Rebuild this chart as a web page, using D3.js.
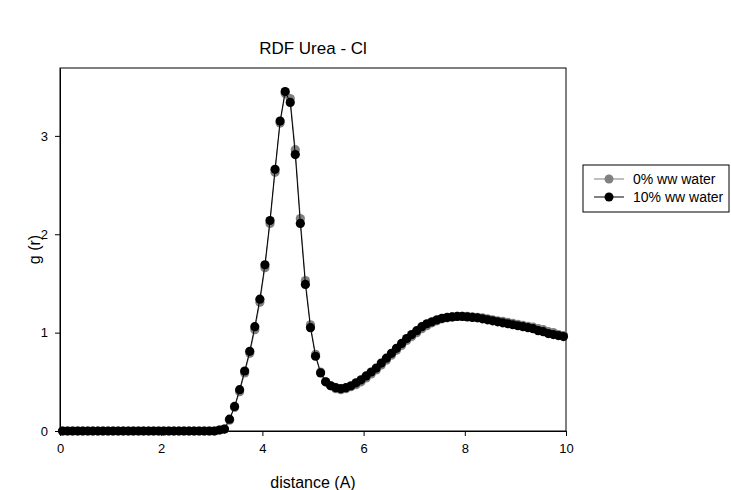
<!DOCTYPE html>
<html>
<head>
<meta charset="utf-8">
<script src="https://cdn.jsdelivr.net/npm/d3@7"></script>
<style>
    body { margin: 0; background: #fff; }
    text { font-family: "Liberation Sans", Arial, sans-serif; fill: #000; }
</style>
</head>
<body>
<div id="chart"></div>
<script>
// bin centres, 0.05 .. 9.95
const distance = d3.range(100).map(i => +(0.05 + 0.1 * i).toFixed(2));

// 10% ww water (black)
const water10 = [
    0, 0, 0, 0, 0, 0, 0, 0, 0, 0,
    0, 0, 0, 0, 0, 0, 0, 0, 0, 0,
    0, 0, 0, 0, 0, 0, 0, 0, 0, 0,
    0, 0.01, 0.02, 0.12, 0.25, 0.42, 0.61, 0.81, 1.06, 1.34,
    1.69, 2.14, 2.66, 3.15, 3.45, 3.34, 2.81, 2.11, 1.49, 1.05,
    0.76, 0.59, 0.50, 0.46, 0.44, 0.43, 0.44, 0.46, 0.49, 0.52,
    0.56, 0.60, 0.64, 0.69, 0.74, 0.79, 0.84, 0.89, 0.94, 0.98,
    1.02, 1.06, 1.09, 1.11, 1.13, 1.145, 1.155, 1.16, 1.165, 1.165,
    1.16, 1.155, 1.15, 1.14, 1.13, 1.12, 1.11, 1.10, 1.09, 1.08,
    1.07, 1.06, 1.05, 1.04, 1.02, 1.01, 0.99, 0.98, 0.97, 0.96
];

// 0% ww water (grey)
const water0 = [
    0, 0, 0, 0, 0, 0, 0, 0, 0, 0,
    0, 0, 0, 0, 0, 0, 0, 0, 0, 0,
    0, 0, 0, 0, 0, 0, 0, 0, 0, 0,
    0, 0.01, 0.02, 0.11, 0.24, 0.40, 0.59, 0.79, 1.03, 1.31,
    1.66, 2.11, 2.63, 3.13, 3.43, 3.38, 2.86, 2.16, 1.53, 1.08,
    0.78, 0.60, 0.50, 0.46, 0.43, 0.42, 0.43, 0.45, 0.47, 0.50,
    0.54, 0.58, 0.62, 0.67, 0.72, 0.77, 0.82, 0.87, 0.92, 0.96,
    1.00, 1.04, 1.07, 1.10, 1.12, 1.14, 1.15, 1.16, 1.165, 1.165,
    1.165, 1.16, 1.155, 1.15, 1.14, 1.13, 1.12, 1.115, 1.105, 1.095,
    1.085, 1.075, 1.065, 1.055, 1.04, 1.03, 1.01, 1.0, 0.98, 0.97
];

const seriesNames = ["0% ww water", "10% ww water"];
const seriesColors = ["#808080", "#000000"];
const xTicks = [0, 2, 4, 6, 8, 10];
const yTicks = [0, 1, 2, 3];

const W = 731, H = 490;
const margin = { top: 68, right: 165, bottom: 59, left: 60 };
const width = W - margin.left - margin.right;
const height = H - margin.top - margin.bottom;

const svg = d3.select("#chart").append("svg")
    .attr("width", W)
    .attr("height", H);

const g = svg.append("g")
    .attr("transform", `translate(${margin.left},${margin.top})`);

const x = d3.scaleLinear().domain([0, 10]).range([0, width]);
const y = d3.scaleLinear().domain([0, 3.69]).range([height, 0]);

// frame
g.append("rect")
    .attr("width", width)
    .attr("height", height)
    .attr("fill", "none")
    .attr("stroke", "#000")
    .attr("stroke-width", 1);

const xAxis = g.append("g")
    .attr("transform", `translate(0,${height})`)
    .call(d3.axisBottom(x).tickValues(xTicks).tickFormat(d3.format("d"))
        .tickSize(5).tickSizeOuter(0).tickPadding(8));
const yAxis = g.append("g")
    .call(d3.axisLeft(y).tickValues(yTicks).tickFormat(d3.format("d"))
        .tickSize(5).tickSizeOuter(0).tickPadding(7));

[xAxis, yAxis].forEach(a => {
    a.select(".domain").attr("stroke", "#000");
    a.selectAll("line").attr("stroke", "#000");
    a.selectAll("text").style("font-size", "13px").style("font-family", "Liberation Sans, Arial, sans-serif");
});

const allSeries = [water0, water10];
const line = d3.line()
    .x((d, i) => x(distance[i]))
    .y(d => y(d));

allSeries.forEach((vals, s) => {
    const sg = g.append("g");
    sg.append("path")
        .datum(vals)
        .attr("fill", "none")
        .attr("stroke", seriesColors[s])
        .attr("stroke-width", 1)
        .attr("d", line);
    sg.selectAll("circle")
        .data(vals)
        .enter()
        .append("circle")
        .attr("cx", (d, i) => x(distance[i]))
        .attr("cy", d => y(d))
        .attr("r", 4.6)
        .attr("fill", seriesColors[s]);
});

// title and axis labels
svg.append("text")
    .attr("x", margin.left + width / 2)
    .attr("y", 54)
    .attr("text-anchor", "middle")
    .style("font-size", "17px")
    .text("RDF Urea - Cl");

svg.append("text")
    .attr("x", margin.left + width / 2)
    .attr("y", 488)
    .attr("text-anchor", "middle")
    .style("font-size", "16px")
    .text("distance (A)");

svg.append("text")
    .attr("transform", `translate(40,${margin.top + height / 2}) rotate(-90)`)
    .attr("text-anchor", "middle")
    .style("font-size", "16px")
    .text("g (r)");

// legend
const legend = svg.append("g").attr("transform", "translate(583,165)");
legend.append("rect")
    .attr("width", 146)
    .attr("height", 47)
    .attr("fill", "#fff")
    .attr("stroke", "#000");

seriesNames.forEach((name, i) => {
    const ly = 14 + i * 18;
    legend.append("line")
        .attr("x1", 11).attr("x2", 41)
        .attr("y1", ly).attr("y2", ly)
        .attr("stroke", seriesColors[i]);
    legend.append("circle")
        .attr("cx", 26).attr("cy", ly)
        .attr("r", 4.5)
        .attr("fill", seriesColors[i]);
    legend.append("text")
        .attr("x", 50).attr("y", ly + 5)
        .style("font-size", "14px")
        .text(name);
});
</script>
</body>
</html>
